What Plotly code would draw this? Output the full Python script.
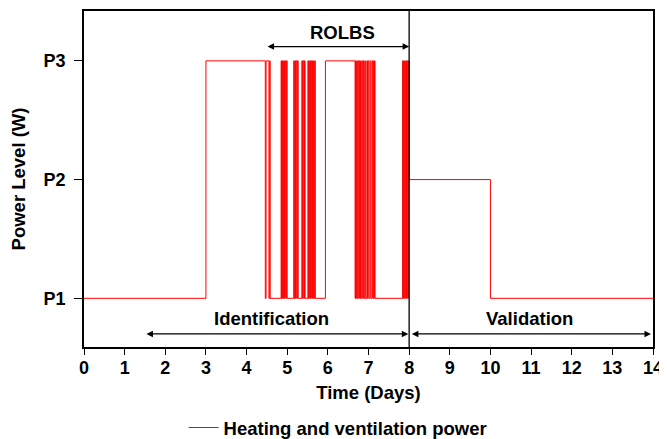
import plotly.graph_objects as go

# Switching times (days) and the power level that starts at each time (1=P1, 2=P2, 3=P3)
time_days = [0.0, 3.0,
             4.46, 4.48, 4.55, 4.57, 4.58,
             4.85, 4.86, 4.87, 4.88, 4.89, 4.905, 4.92, 4.935, 4.95, 4.965, 4.98, 5.00,
             5.16, 5.175, 5.19, 5.205, 5.215, 5.235, 5.25, 5.27,
             5.36, 5.375, 5.39, 5.41, 5.425, 5.44,
             5.51, 5.52, 5.53, 5.545, 5.56, 5.575, 5.59, 5.605, 5.62, 5.635, 5.65, 5.665, 5.68, 5.69,
             5.94,
             6.67, 6.68, 6.695, 6.71, 6.725, 6.74, 6.76, 6.775, 6.79, 6.805, 6.82, 6.84, 6.86, 6.875,
             6.89, 6.91, 6.93, 6.96, 6.975, 6.99, 7.01, 7.04, 7.06, 7.09, 7.105, 7.12, 7.14, 7.15, 7.16,
             7.84, 7.85, 7.86, 7.875, 7.89, 7.905, 7.92, 7.935, 7.95, 7.965, 7.98,
             8.0, 10.0, 14.0]
power_level = [1, 3,
               1, 3, 1, 3, 1,
               3, 1, 3, 1, 3, 1, 3, 1, 3, 1, 3, 1,
               3, 1, 3, 1, 3, 1, 3, 1,
               3, 1, 3, 1, 3, 1,
               3, 1, 3, 1, 3, 1, 3, 1, 3, 1, 3, 1, 3, 1,
               3,
               1, 3, 1, 3, 1, 3, 1, 3, 1, 3, 1, 3, 1, 3,
               1, 3, 1, 3, 1, 3, 1, 3, 1, 3, 1, 3, 1, 3, 1,
               3, 1, 3, 1, 3, 1, 3, 1, 3, 1, 3,
               2, 1, 1]

x_ticks = list(range(0, 15))
y_tick_vals = [1, 2, 3]
y_tick_text = ["P1", "P2", "P3"]

FONT = "Liberation Sans, Arial, sans-serif"

fig = go.Figure()
fig.add_trace(go.Scatter(
    x=time_days, y=power_level, mode="lines", line_shape="hv",
    line=dict(color="#ff0000", width=1),
    name="Heating and ventilation power"))

fig.add_shape(type="line", xref="x", yref="paper", x0=8, x1=8, y0=0, y1=1,
              line=dict(color="black", width=1.3))

ann_font = dict(family=FONT, size=18.5, color="black", weight="bold")
fig.add_annotation(x=6.35, y=3.24, text="ROLBS", showarrow=False, font=ann_font)
fig.add_annotation(x=4.61, y=0.83, text="Identification", showarrow=False, font=ann_font)
fig.add_annotation(x=10.97, y=0.83, text="Validation", showarrow=False, font=ann_font)

arrow_y_top = 3.12
arrow_y_bot = 0.70
for x0, x1, yy in [(4.48, 8.0, arrow_y_top), (1.5, 7.98, arrow_y_bot), (8.03, 13.95, arrow_y_bot)]:
    fig.add_annotation(x=x1, y=yy, ax=x0, ay=yy, xref="x", yref="y", axref="x", ayref="y",
                       text="", showarrow=True, arrowhead=2, arrowside="end+start",
                       arrowsize=1, arrowwidth=1.3, arrowcolor="black", startarrowhead=2,
                       startarrowsize=1)

# the page body adds an 8px offset, so the figure is drawn 8px smaller
fig.update_layout(
    width=659, height=431,
    margin=dict(l=76, r=14, t=3, b=92, autoexpand=False),
    paper_bgcolor="white", plot_bgcolor="white",
    font=dict(family=FONT, size=18, color="black", weight="bold"),
    showlegend=True,
    legend=dict(orientation="h", x=0.175, xanchor="left", y=-0.241, yanchor="middle",
                font=dict(family=FONT, size=18.5, color="black", weight="bold"),
                bgcolor="rgba(0,0,0,0)"),
)
fig.update_xaxes(range=[0, 14], tickvals=x_ticks, ticks="outside", ticklen=6, tickwidth=1.3,
                 tickcolor="black", showline=True, linecolor="black", linewidth=1.8, mirror=True,
                 showgrid=False, zeroline=False, automargin=False, ticklabelstandoff=-3,
                 title=dict(text="Time (Days)", standoff=10,
                            font=dict(family=FONT, size=18.5, weight="bold")))
fig.update_yaxes(range=[0.59, 3.42], tickvals=y_tick_vals, ticktext=y_tick_text, ticks="outside",
                 ticklen=8, tickwidth=1.3, tickcolor="black", showline=True, linecolor="black",
                 linewidth=1.8, mirror=True, showgrid=False, zeroline=False, automargin=False,
                 ticklabelstandoff=5,
                 title=dict(text="Power Level (W)", standoff=18,
                            font=dict(family=FONT, size=18.5, weight="bold")))

fig.write_html("out.html")
